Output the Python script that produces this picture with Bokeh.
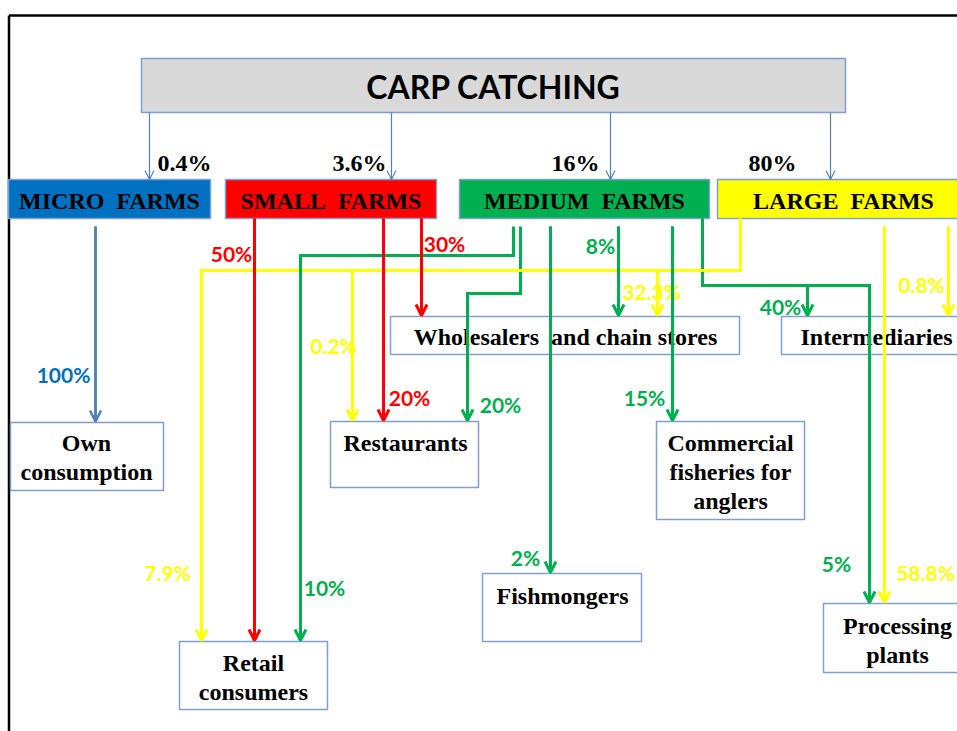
from bokeh.plotting import figure
from bokeh.models import Range1d, Arrow, OpenHead
from bokeh.core.properties import value
from bokeh.embed import file_html
from bokeh.resources import INLINE

# ---------------- data ----------------
title = "CARP CATCHING"
farm_names = ["MICRO  FARMS", "SMALL  FARMS", "MEDIUM  FARMS", "LARGE  FARMS"]
farm_shares = ["0.4%", "3.6%", "16%", "80%"]
farm_colors = ["#0070C0", "#FF0000", "#00B050", "#FFFF00"]

dest_names = ["Own\nconsumption", "Wholesalers  and chain stores", "Intermediaries",
              "Restaurants", "Commercial\nfisheries for\nanglers", "Fishmongers",
              "Retail\nconsumers", "Processing\nplants"]

flow_source = [0, 1, 1, 1, 2, 2, 2, 2, 2, 2, 2, 3, 3, 3, 3, 3]
flow_target = [0, 6, 3, 1, 6, 3, 5, 1, 4, 2, 7, 6, 3, 1, 7, 2]
flow_pcts = ["100%", "50%", "20%", "30%", "10%", "20%", "2%", "8%", "15%", "40%", "5%",
             "7.9%", "0.2%", "32.3%", "58.8%", "0.8%"]

# ---------------- layout (pixel space) ----------------
W, H = 957, 731

title_box = (141, 845, 58, 112)
farm_left = [8, 225, 459, 717]
farm_right = [210, 436, 709, 975]
farm_top, farm_bottom = 179, 218
top_arrow_x = [149, 391, 610, 830]
share_cx = [184, 359, 575, 772]
share_cy = 162

dest_box = [(10, 163, 422, 490), (390, 739, 316, 354), (781, 975, 316, 354),
            (330, 478, 421, 487), (656, 804, 421, 519), (482, 641, 573, 641),
            (179, 327, 641, 709), (823, 975, 603, 672)]
dest_cx = [86, 565, 876, 405, 730, 562, 253, 897]
dest_ly = [[442, 471], [336], [336], [442], [442, 471, 500], [595], [662, 691], [625, 654]]

flow_paths = [
    [(95, 226), (95, 421)],
    [(254, 218), (254, 640)],
    [(383, 218), (383, 420)],
    [(421, 218), (421, 315)],
    [(513, 226), (513, 255), (300, 255), (300, 640)],
    [(520, 226), (520, 293), (467, 293), (467, 420)],
    [(550, 226), (550, 572)],
    [(618, 226), (618, 315)],
    [(672, 226), (672, 420)],
    [(702, 218), (702, 285), (807, 285), (807, 315)],
    [(702, 218), (702, 285), (869, 285), (869, 602)],
    [(740, 218), (740, 270), (201, 270), (201, 640)],
    [(740, 218), (740, 270), (352, 270), (352, 420)],
    [(740, 218), (740, 270), (657, 270), (657, 315)],
    [(884, 226), (884, 602)],
    [(948, 226), (948, 315)],
]
label_pos = [(63, 374), (231, 253), (409, 397), (444, 243), (324, 587), (500, 404),
             (525, 557), (600, 245), (644, 397), (780, 306), (836, 563), (167, 572),
             (333, 345), (651, 291), (925, 572), (921, 284)]

micro_line = "#4F81BD"
box_edge = "#7F9FD3"
label_colors = ["#0070C0", "#FF0000", "#00B050", "#FFFF00"]

p = figure(width=W, height=H, x_range=Range1d(0, W), y_range=Range1d(H, 0),
           output_backend="svg", toolbar_location=None, x_axis_type=None, y_axis_type=None,
           min_border=0, outline_line_color=None, background_fill_color="white")
p.grid.visible = False

# frame border lines
p.line([8.5, 8.5], [740, 15], line_color="black", line_width=2.5)
p.line([8.5, 970], [15, 15], line_color="black", line_width=2.5)

# title box
l, r, t, b = title_box
p.quad(left=[l], right=[r], top=[t], bottom=[b], fill_color="#D9D9D9",
       line_color=box_edge, line_width=1.5)
p.text(x=[(l + r) / 2], y=[(t + b) / 2 + 1], text=[title], text_font=value("Lato"),
       text_font_style="bold", text_font_size="32px", text_align="center",
       text_baseline="middle", text_color="black")

# farm boxes
p.quad(left=farm_left, right=farm_right, top=[farm_top] * 4, bottom=[farm_bottom] * 4,
       fill_color=farm_colors, line_color=box_edge, line_width=1.5)
farm_cx = [(a + c) / 2 for a, c in zip(farm_left, farm_right)]
farm_cx[3] = 843
p.text(x=farm_cx, y=[200] * 4, text=[n.replace("  ", "\u00a0\u00a0") for n in farm_names],
       text_font=value("Liberation Serif"),
       text_font_style="bold", text_font_size="24px", text_align="center",
       text_baseline="middle", text_color="black")

# top arrows and shares
for x in top_arrow_x:
    p.add_layout(Arrow(x_start=x, y_start=112, x_end=x, y_end=179,
                       line_color=micro_line, line_width=1.2,
                       end=OpenHead(size=9, line_color=micro_line, line_width=1.2)))
p.text(x=share_cx, y=[share_cy] * 4, text=farm_shares, text_font=value("Liberation Serif"),
       text_font_style="bold", text_font_size="24px", text_align="center",
       text_baseline="middle", text_color="black")

# destination boxes
p.quad(left=[d[0] for d in dest_box], right=[d[1] for d in dest_box],
       top=[d[2] for d in dest_box], bottom=[d[3] for d in dest_box],
       fill_color="white", line_color=box_edge, line_width=1.5)
tx, ty, tt = [], [], []
for name, cx, ys in zip(dest_names, dest_cx, dest_ly):
    for line, y in zip(name.split("\n"), ys):
        tx.append(cx); ty.append(y); tt.append(line.replace("  ", "\u00a0\u00a0"))
p.text(x=tx, y=ty, text=tt, text_font=value("Liberation Serif"), text_font_style="bold",
       text_font_size="24px", text_align="center", text_baseline="middle",
       text_color="black")

# flow labels
p.text(x=[q[0] for q in label_pos], y=[q[1] for q in label_pos], text=flow_pcts,
       text_font=value("Lato"), text_font_style="bold", text_font_size="21px",
       text_align="center", text_baseline="middle",
       text_color=[label_colors[s] for s in flow_source])

# flow lines
xs, ys, cols, wids = [], [], [], []
for s, path in zip(flow_source, flow_paths):
    xs.append([q[0] for q in path]); ys.append([q[1] for q in path])
    c = micro_line if s == 0 else farm_colors[s]
    cols.append(c); wids.append(2.5 if s == 0 else 3)
p.multi_line(xs=xs, ys=ys, line_color=cols, line_width=wids, line_join="miter")
for c, w, path in zip(cols, wids, flow_paths):
    (x1, y1), (x2, y2) = path[-2], path[-1]
    p.add_layout(Arrow(x_start=x1, y_start=y1, x_end=x2, y_end=y2, line_color=c,
                       line_width=w, end=OpenHead(size=11, line_color=c, line_width=w)))

open("out.html", "w").write(file_html(p, INLINE))
